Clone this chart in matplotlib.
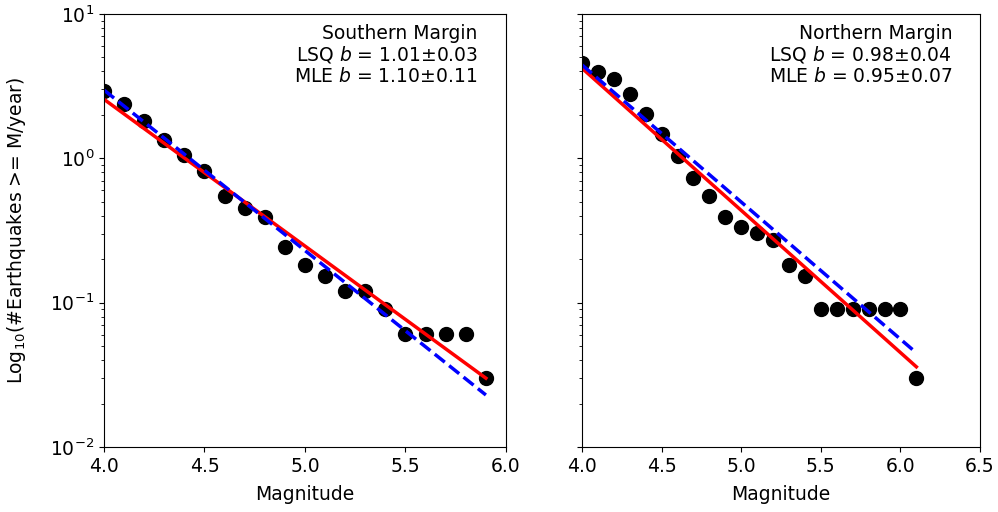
import numpy as np
import matplotlib
matplotlib.use('Agg')
import matplotlib.pyplot as plt

# cumulative rates (events >= M per year)
mag_s = [4.0, 4.1, 4.2, 4.3, 4.4, 4.5, 4.6, 4.7, 4.8, 4.9,
         5.0, 5.1, 5.2, 5.3, 5.4, 5.5, 5.6, 5.7, 5.8, 5.9]
rate_s = [2.94, 2.39, 1.82, 1.33, 1.06, 0.82, 0.545, 0.455, 0.394, 0.242,
          0.182, 0.152, 0.121, 0.121, 0.091, 0.061, 0.061, 0.061, 0.061, 0.030]

mag_n = [4.0, 4.1, 4.2, 4.3, 4.4, 4.5, 4.6, 4.7, 4.8, 4.9, 5.0,
         5.1, 5.2, 5.3, 5.4, 5.5, 5.6, 5.7, 5.8, 5.9, 6.0, 6.1]
rate_n = [4.55, 3.94, 3.52, 2.79, 2.03, 1.485, 1.03, 0.727, 0.545, 0.394, 0.333,
          0.303, 0.273, 0.182, 0.152, 0.091, 0.091, 0.091, 0.091, 0.091, 0.091, 0.030]

# fit parameters: log10 N = a - b*M
lsq_s = (4.477, 1.017)
mle_s = (4.921, 1.112)
lsq_n = (4.564, 0.985)
mle_n = (4.447, 0.950)

titles = ['Southern Margin', 'Northern Margin']
lsq_txt = ['1.01\u00b10.03', '0.98\u00b10.04']
mle_txt = ['1.10\u00b10.11', '0.95\u00b10.07']

fs = 13.5
fig = plt.figure(figsize=(9.98, 5.12), dpi=100)
ax1 = fig.add_axes([0.1042, 0.127, 0.4028, 0.8457])
ax2 = fig.add_axes([0.5832, 0.127, 0.3988, 0.8457], sharey=ax1)

panels = [(ax1, mag_s, rate_s, lsq_s, mle_s, (4.0, 6.0)),
          (ax2, mag_n, rate_n, lsq_n, mle_n, (4.0, 6.5))]

for i, (ax, m, r, lsq, mle, xl) in enumerate(panels):
    m = np.array(m)
    ax.semilogy(m, r, 'o', color='k', markersize=10)
    mm = np.array([m[0], m[-1]])
    ax.semilogy(mm, 10**(lsq[0] - lsq[1]*mm), 'r-', lw=2.5)
    ax.semilogy(mm, 10**(mle[0] - mle[1]*mm), 'b--', lw=2.5)
    ax.set_xlim(xl)
    ax.set_ylim(1e-2, 1e1)
    ax.set_xlabel('Magnitude', fontsize=fs, labelpad=7)
    ax.tick_params(labelsize=fs)
    ax.text(0.93, 0.978, titles[i] + '\nLSQ $b$ = ' + lsq_txt[i] + '\nMLE $b$ = ' + mle_txt[i],
            transform=ax.transAxes, ha='right', va='top', fontsize=fs,
            multialignment='right', linespacing=1.1)

ax1.set_xticks([4.0, 4.5, 5.0, 5.5, 6.0])
ax2.set_xticks([4.0, 4.5, 5.0, 5.5, 6.0, 6.5])
ax1.set_ylabel('Log$_{10}$(#Earthquakes >= M/year)', fontsize=fs)
ax1.yaxis.set_label_coords(-0.19, 0.5)
plt.setp(ax2.get_yticklabels(), visible=False)

fig.savefig('out.png', dpi=100)
